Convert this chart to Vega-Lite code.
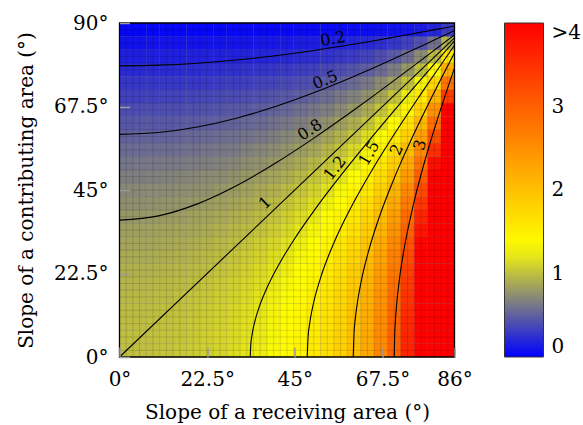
{
"$schema": "https://vega.github.io/schema/vega-lite/v6.json",
"width": 335, "height": 334,
"autosize": {"type": "none"},
"padding": {"left": 119.5, "top": 23, "right": 128.5, "bottom": 68},
"config": {"view": {"stroke": null}, "font": "DejaVu Serif"},
"datasets": {
"cells": [
{"x":1.72,"y":1.8,"v":1.00},{"x":5.16,"y":1.8,"v":1.00},{"x":8.6,"y":1.8,"v":1.01},{"x":12.04,"y":1.8,"v":1.02},{"x":15.48,"y":1.8,"v":1.04},{"x":18.92,"y":1.8,"v":1.06},{"x":22.36,"y":1.8,"v":1.08},{"x":25.8,"y":1.8,"v":1.11},{"x":29.24,"y":1.8,"v":1.15},{"x":32.68,"y":1.8,"v":1.19},{"x":36.12,"y":1.8,"v":1.24},{"x":39.56,"y":1.8,"v":1.30},{"x":43,"y":1.8,"v":1.37},{"x":46.44,"y":1.8,"v":1.45},{"x":49.88,"y":1.8,"v":1.55},{"x":53.32,"y":1.8,"v":1.67},{"x":56.76,"y":1.8,"v":1.82},{"x":60.2,"y":1.8,"v":2.01},{"x":63.64,"y":1.8,"v":2.25},{"x":67.08,"y":1.8,"v":2.57},{"x":70.52,"y":1.8,"v":3.00},{"x":73.96,"y":1.8,"v":3.62},{"x":77.4,"y":1.8,"v":4.58},{"x":80.84,"y":1.8,"v":6.28},{"x":84.28,"y":1.8,"v":10.03},
{"x":1.72,"y":5.4,"v":1.00},{"x":5.16,"y":5.4,"v":1.00},{"x":8.6,"y":5.4,"v":1.01},{"x":12.04,"y":5.4,"v":1.02},{"x":15.48,"y":5.4,"v":1.03},{"x":18.92,"y":5.4,"v":1.05},{"x":22.36,"y":5.4,"v":1.08},{"x":25.8,"y":5.4,"v":1.11},{"x":29.24,"y":5.4,"v":1.14},{"x":32.68,"y":5.4,"v":1.18},{"x":36.12,"y":5.4,"v":1.23},{"x":39.56,"y":5.4,"v":1.29},{"x":43,"y":5.4,"v":1.36},{"x":46.44,"y":5.4,"v":1.44},{"x":49.88,"y":5.4,"v":1.54},{"x":53.32,"y":5.4,"v":1.67},{"x":56.76,"y":5.4,"v":1.82},{"x":60.2,"y":5.4,"v":2.00},{"x":63.64,"y":5.4,"v":2.24},{"x":67.08,"y":5.4,"v":2.56},{"x":70.52,"y":5.4,"v":2.99},{"x":73.96,"y":5.4,"v":3.60},{"x":77.4,"y":5.4,"v":4.56},{"x":80.84,"y":5.4,"v":6.25},{"x":84.28,"y":5.4,"v":9.99},
{"x":1.72,"y":9,"v":0.99},{"x":5.16,"y":9,"v":0.99},{"x":8.6,"y":9,"v":1.00},{"x":12.04,"y":9,"v":1.01},{"x":15.48,"y":9,"v":1.02},{"x":18.92,"y":9,"v":1.04},{"x":22.36,"y":9,"v":1.07},{"x":25.8,"y":9,"v":1.10},{"x":29.24,"y":9,"v":1.13},{"x":32.68,"y":9,"v":1.17},{"x":36.12,"y":9,"v":1.22},{"x":39.56,"y":9,"v":1.28},{"x":43,"y":9,"v":1.35},{"x":46.44,"y":9,"v":1.43},{"x":49.88,"y":9,"v":1.53},{"x":53.32,"y":9,"v":1.65},{"x":56.76,"y":9,"v":1.80},{"x":60.2,"y":9,"v":1.99},{"x":63.64,"y":9,"v":2.22},{"x":67.08,"y":9,"v":2.54},{"x":70.52,"y":9,"v":2.96},{"x":73.96,"y":9,"v":3.57},{"x":77.4,"y":9,"v":4.53},{"x":80.84,"y":9,"v":6.20},{"x":84.28,"y":9,"v":9.91},
{"x":1.72,"y":12.6,"v":0.98},{"x":5.16,"y":12.6,"v":0.98},{"x":8.6,"y":12.6,"v":0.99},{"x":12.04,"y":12.6,"v":1.00},{"x":15.48,"y":12.6,"v":1.01},{"x":18.92,"y":12.6,"v":1.03},{"x":22.36,"y":12.6,"v":1.06},{"x":25.8,"y":12.6,"v":1.08},{"x":29.24,"y":12.6,"v":1.12},{"x":32.68,"y":12.6,"v":1.16},{"x":36.12,"y":12.6,"v":1.21},{"x":39.56,"y":12.6,"v":1.27},{"x":43,"y":12.6,"v":1.33},{"x":46.44,"y":12.6,"v":1.42},{"x":49.88,"y":12.6,"v":1.51},{"x":53.32,"y":12.6,"v":1.63},{"x":56.76,"y":12.6,"v":1.78},{"x":60.2,"y":12.6,"v":1.96},{"x":63.64,"y":12.6,"v":2.20},{"x":67.08,"y":12.6,"v":2.51},{"x":70.52,"y":12.6,"v":2.93},{"x":73.96,"y":12.6,"v":3.53},{"x":77.4,"y":12.6,"v":4.47},{"x":80.84,"y":12.6,"v":6.13},{"x":84.28,"y":12.6,"v":9.79},
{"x":1.72,"y":16.2,"v":0.96},{"x":5.16,"y":16.2,"v":0.96},{"x":8.6,"y":16.2,"v":0.97},{"x":12.04,"y":16.2,"v":0.98},{"x":15.48,"y":16.2,"v":1.00},{"x":18.92,"y":16.2,"v":1.02},{"x":22.36,"y":16.2,"v":1.04},{"x":25.8,"y":16.2,"v":1.07},{"x":29.24,"y":16.2,"v":1.10},{"x":32.68,"y":16.2,"v":1.14},{"x":36.12,"y":16.2,"v":1.19},{"x":39.56,"y":16.2,"v":1.25},{"x":43,"y":16.2,"v":1.31},{"x":46.44,"y":16.2,"v":1.39},{"x":49.88,"y":16.2,"v":1.49},{"x":53.32,"y":16.2,"v":1.61},{"x":56.76,"y":16.2,"v":1.75},{"x":60.2,"y":16.2,"v":1.93},{"x":63.64,"y":16.2,"v":2.16},{"x":67.08,"y":16.2,"v":2.47},{"x":70.52,"y":16.2,"v":2.88},{"x":73.96,"y":16.2,"v":3.48},{"x":77.4,"y":16.2,"v":4.40},{"x":80.84,"y":16.2,"v":6.03},{"x":84.28,"y":16.2,"v":9.63},
{"x":1.72,"y":19.8,"v":0.94},{"x":5.16,"y":19.8,"v":0.94},{"x":8.6,"y":19.8,"v":0.95},{"x":12.04,"y":19.8,"v":0.96},{"x":15.48,"y":19.8,"v":0.98},{"x":18.92,"y":19.8,"v":0.99},{"x":22.36,"y":19.8,"v":1.02},{"x":25.8,"y":19.8,"v":1.05},{"x":29.24,"y":19.8,"v":1.08},{"x":32.68,"y":19.8,"v":1.12},{"x":36.12,"y":19.8,"v":1.16},{"x":39.56,"y":19.8,"v":1.22},{"x":43,"y":19.8,"v":1.29},{"x":46.44,"y":19.8,"v":1.37},{"x":49.88,"y":19.8,"v":1.46},{"x":53.32,"y":19.8,"v":1.58},{"x":56.76,"y":19.8,"v":1.72},{"x":60.2,"y":19.8,"v":1.89},{"x":63.64,"y":19.8,"v":2.12},{"x":67.08,"y":19.8,"v":2.42},{"x":70.52,"y":19.8,"v":2.82},{"x":73.96,"y":19.8,"v":3.41},{"x":77.4,"y":19.8,"v":4.31},{"x":80.84,"y":19.8,"v":5.91},{"x":84.28,"y":19.8,"v":9.44},
{"x":1.72,"y":23.4,"v":0.92},{"x":5.16,"y":23.4,"v":0.92},{"x":8.6,"y":23.4,"v":0.93},{"x":12.04,"y":23.4,"v":0.94},{"x":15.48,"y":23.4,"v":0.95},{"x":18.92,"y":23.4,"v":0.97},{"x":22.36,"y":23.4,"v":0.99},{"x":25.8,"y":23.4,"v":1.02},{"x":29.24,"y":23.4,"v":1.05},{"x":32.68,"y":23.4,"v":1.09},{"x":36.12,"y":23.4,"v":1.14},{"x":39.56,"y":23.4,"v":1.19},{"x":43,"y":23.4,"v":1.25},{"x":46.44,"y":23.4,"v":1.33},{"x":49.88,"y":23.4,"v":1.42},{"x":53.32,"y":23.4,"v":1.54},{"x":56.76,"y":23.4,"v":1.67},{"x":60.2,"y":23.4,"v":1.85},{"x":63.64,"y":23.4,"v":2.07},{"x":67.08,"y":23.4,"v":2.36},{"x":70.52,"y":23.4,"v":2.75},{"x":73.96,"y":23.4,"v":3.32},{"x":77.4,"y":23.4,"v":4.21},{"x":80.84,"y":23.4,"v":5.77},{"x":84.28,"y":23.4,"v":9.21},
{"x":1.72,"y":27,"v":0.89},{"x":5.16,"y":27,"v":0.89},{"x":8.6,"y":27,"v":0.90},{"x":12.04,"y":27,"v":0.91},{"x":15.48,"y":27,"v":0.92},{"x":18.92,"y":27,"v":0.94},{"x":22.36,"y":27,"v":0.96},{"x":25.8,"y":27,"v":0.99},{"x":29.24,"y":27,"v":1.02},{"x":32.68,"y":27,"v":1.06},{"x":36.12,"y":27,"v":1.10},{"x":39.56,"y":27,"v":1.16},{"x":43,"y":27,"v":1.22},{"x":46.44,"y":27,"v":1.29},{"x":49.88,"y":27,"v":1.38},{"x":53.32,"y":27,"v":1.49},{"x":56.76,"y":27,"v":1.63},{"x":60.2,"y":27,"v":1.79},{"x":63.64,"y":27,"v":2.01},{"x":67.08,"y":27,"v":2.29},{"x":70.52,"y":27,"v":2.67},{"x":73.96,"y":27,"v":3.22},{"x":77.4,"y":27,"v":4.08},{"x":80.84,"y":27,"v":5.60},{"x":84.28,"y":27,"v":8.94},
{"x":1.72,"y":30.6,"v":0.86},{"x":5.16,"y":30.6,"v":0.86},{"x":8.6,"y":30.6,"v":0.87},{"x":12.04,"y":30.6,"v":0.88},{"x":15.48,"y":30.6,"v":0.89},{"x":18.92,"y":30.6,"v":0.91},{"x":22.36,"y":30.6,"v":0.93},{"x":25.8,"y":30.6,"v":0.96},{"x":29.24,"y":30.6,"v":0.99},{"x":32.68,"y":30.6,"v":1.02},{"x":36.12,"y":30.6,"v":1.07},{"x":39.56,"y":30.6,"v":1.12},{"x":43,"y":30.6,"v":1.18},{"x":46.44,"y":30.6,"v":1.25},{"x":49.88,"y":30.6,"v":1.34},{"x":53.32,"y":30.6,"v":1.44},{"x":56.76,"y":30.6,"v":1.57},{"x":60.2,"y":30.6,"v":1.73},{"x":63.64,"y":30.6,"v":1.94},{"x":67.08,"y":30.6,"v":2.21},{"x":70.52,"y":30.6,"v":2.58},{"x":73.96,"y":30.6,"v":3.12},{"x":77.4,"y":30.6,"v":3.95},{"x":80.84,"y":30.6,"v":5.41},{"x":84.28,"y":30.6,"v":8.64},
{"x":1.72,"y":34.2,"v":0.83},{"x":5.16,"y":34.2,"v":0.83},{"x":8.6,"y":34.2,"v":0.84},{"x":12.04,"y":34.2,"v":0.85},{"x":15.48,"y":34.2,"v":0.86},{"x":18.92,"y":34.2,"v":0.87},{"x":22.36,"y":34.2,"v":0.89},{"x":25.8,"y":34.2,"v":0.92},{"x":29.24,"y":34.2,"v":0.95},{"x":32.68,"y":34.2,"v":0.98},{"x":36.12,"y":34.2,"v":1.02},{"x":39.56,"y":34.2,"v":1.07},{"x":43,"y":34.2,"v":1.13},{"x":46.44,"y":34.2,"v":1.20},{"x":49.88,"y":34.2,"v":1.28},{"x":53.32,"y":34.2,"v":1.38},{"x":56.76,"y":34.2,"v":1.51},{"x":60.2,"y":34.2,"v":1.66},{"x":63.64,"y":34.2,"v":1.86},{"x":67.08,"y":34.2,"v":2.12},{"x":70.52,"y":34.2,"v":2.48},{"x":73.96,"y":34.2,"v":2.99},{"x":77.4,"y":34.2,"v":3.79},{"x":80.84,"y":34.2,"v":5.20},{"x":84.28,"y":34.2,"v":8.30},
{"x":1.72,"y":37.8,"v":0.79},{"x":5.16,"y":37.8,"v":0.79},{"x":8.6,"y":37.8,"v":0.80},{"x":12.04,"y":37.8,"v":0.81},{"x":15.48,"y":37.8,"v":0.82},{"x":18.92,"y":37.8,"v":0.84},{"x":22.36,"y":37.8,"v":0.85},{"x":25.8,"y":37.8,"v":0.88},{"x":29.24,"y":37.8,"v":0.91},{"x":32.68,"y":37.8,"v":0.94},{"x":36.12,"y":37.8,"v":0.98},{"x":39.56,"y":37.8,"v":1.02},{"x":43,"y":37.8,"v":1.08},{"x":46.44,"y":37.8,"v":1.15},{"x":49.88,"y":37.8,"v":1.23},{"x":53.32,"y":37.8,"v":1.32},{"x":56.76,"y":37.8,"v":1.44},{"x":60.2,"y":37.8,"v":1.59},{"x":63.64,"y":37.8,"v":1.78},{"x":67.08,"y":37.8,"v":2.03},{"x":70.52,"y":37.8,"v":2.37},{"x":73.96,"y":37.8,"v":2.86},{"x":77.4,"y":37.8,"v":3.62},{"x":80.84,"y":37.8,"v":4.96},{"x":84.28,"y":37.8,"v":7.93},
{"x":1.72,"y":41.4,"v":0.75},{"x":5.16,"y":41.4,"v":0.75},{"x":8.6,"y":41.4,"v":0.76},{"x":12.04,"y":41.4,"v":0.77},{"x":15.48,"y":41.4,"v":0.78},{"x":18.92,"y":41.4,"v":0.79},{"x":22.36,"y":41.4,"v":0.81},{"x":25.8,"y":41.4,"v":0.83},{"x":29.24,"y":41.4,"v":0.86},{"x":32.68,"y":41.4,"v":0.89},{"x":36.12,"y":41.4,"v":0.93},{"x":39.56,"y":41.4,"v":0.97},{"x":43,"y":41.4,"v":1.03},{"x":46.44,"y":41.4,"v":1.09},{"x":49.88,"y":41.4,"v":1.16},{"x":53.32,"y":41.4,"v":1.26},{"x":56.76,"y":41.4,"v":1.37},{"x":60.2,"y":41.4,"v":1.51},{"x":63.64,"y":41.4,"v":1.69},{"x":67.08,"y":41.4,"v":1.93},{"x":70.52,"y":41.4,"v":2.25},{"x":73.96,"y":41.4,"v":2.71},{"x":77.4,"y":41.4,"v":3.44},{"x":80.84,"y":41.4,"v":4.71},{"x":84.28,"y":41.4,"v":7.53},
{"x":1.72,"y":45,"v":0.71},{"x":5.16,"y":45,"v":0.71},{"x":8.6,"y":45,"v":0.72},{"x":12.04,"y":45,"v":0.72},{"x":15.48,"y":45,"v":0.73},{"x":18.92,"y":45,"v":0.75},{"x":22.36,"y":45,"v":0.76},{"x":25.8,"y":45,"v":0.79},{"x":29.24,"y":45,"v":0.81},{"x":32.68,"y":45,"v":0.84},{"x":36.12,"y":45,"v":0.88},{"x":39.56,"y":45,"v":0.92},{"x":43,"y":45,"v":0.97},{"x":46.44,"y":45,"v":1.03},{"x":49.88,"y":45,"v":1.10},{"x":53.32,"y":45,"v":1.18},{"x":56.76,"y":45,"v":1.29},{"x":60.2,"y":45,"v":1.42},{"x":63.64,"y":45,"v":1.59},{"x":67.08,"y":45,"v":1.82},{"x":70.52,"y":45,"v":2.12},{"x":73.96,"y":45,"v":2.56},{"x":77.4,"y":45,"v":3.24},{"x":80.84,"y":45,"v":4.44},{"x":84.28,"y":45,"v":7.09},
{"x":1.72,"y":48.6,"v":0.66},{"x":5.16,"y":48.6,"v":0.66},{"x":8.6,"y":48.6,"v":0.67},{"x":12.04,"y":48.6,"v":0.68},{"x":15.48,"y":48.6,"v":0.69},{"x":18.92,"y":48.6,"v":0.70},{"x":22.36,"y":48.6,"v":0.72},{"x":25.8,"y":48.6,"v":0.73},{"x":29.24,"y":48.6,"v":0.76},{"x":32.68,"y":48.6,"v":0.79},{"x":36.12,"y":48.6,"v":0.82},{"x":39.56,"y":48.6,"v":0.86},{"x":43,"y":48.6,"v":0.90},{"x":46.44,"y":48.6,"v":0.96},{"x":49.88,"y":48.6,"v":1.03},{"x":53.32,"y":48.6,"v":1.11},{"x":56.76,"y":48.6,"v":1.21},{"x":60.2,"y":48.6,"v":1.33},{"x":63.64,"y":48.6,"v":1.49},{"x":67.08,"y":48.6,"v":1.70},{"x":70.52,"y":48.6,"v":1.98},{"x":73.96,"y":48.6,"v":2.39},{"x":77.4,"y":48.6,"v":3.03},{"x":80.84,"y":48.6,"v":4.15},{"x":84.28,"y":48.6,"v":6.63},
{"x":1.72,"y":52.2,"v":0.61},{"x":5.16,"y":52.2,"v":0.62},{"x":8.6,"y":52.2,"v":0.62},{"x":12.04,"y":52.2,"v":0.63},{"x":15.48,"y":52.2,"v":0.64},{"x":18.92,"y":52.2,"v":0.65},{"x":22.36,"y":52.2,"v":0.66},{"x":25.8,"y":52.2,"v":0.68},{"x":29.24,"y":52.2,"v":0.70},{"x":32.68,"y":52.2,"v":0.73},{"x":36.12,"y":52.2,"v":0.76},{"x":39.56,"y":52.2,"v":0.80},{"x":43,"y":52.2,"v":0.84},{"x":46.44,"y":52.2,"v":0.89},{"x":49.88,"y":52.2,"v":0.95},{"x":53.32,"y":52.2,"v":1.03},{"x":56.76,"y":52.2,"v":1.12},{"x":60.2,"y":52.2,"v":1.23},{"x":63.64,"y":52.2,"v":1.38},{"x":67.08,"y":52.2,"v":1.57},{"x":70.52,"y":52.2,"v":1.84},{"x":73.96,"y":52.2,"v":2.22},{"x":77.4,"y":52.2,"v":2.81},{"x":80.84,"y":52.2,"v":3.85},{"x":84.28,"y":52.2,"v":6.15},
{"x":1.72,"y":55.8,"v":0.56},{"x":5.16,"y":55.8,"v":0.56},{"x":8.6,"y":55.8,"v":0.57},{"x":12.04,"y":55.8,"v":0.57},{"x":15.48,"y":55.8,"v":0.58},{"x":18.92,"y":55.8,"v":0.59},{"x":22.36,"y":55.8,"v":0.61},{"x":25.8,"y":55.8,"v":0.62},{"x":29.24,"y":55.8,"v":0.64},{"x":32.68,"y":55.8,"v":0.67},{"x":36.12,"y":55.8,"v":0.70},{"x":39.56,"y":55.8,"v":0.73},{"x":43,"y":55.8,"v":0.77},{"x":46.44,"y":55.8,"v":0.82},{"x":49.88,"y":55.8,"v":0.87},{"x":53.32,"y":55.8,"v":0.94},{"x":56.76,"y":55.8,"v":1.03},{"x":60.2,"y":55.8,"v":1.13},{"x":63.64,"y":55.8,"v":1.27},{"x":67.08,"y":55.8,"v":1.44},{"x":70.52,"y":55.8,"v":1.69},{"x":73.96,"y":55.8,"v":2.03},{"x":77.4,"y":55.8,"v":2.58},{"x":80.84,"y":55.8,"v":3.53},{"x":84.28,"y":55.8,"v":5.64},
{"x":1.72,"y":59.4,"v":0.51},{"x":5.16,"y":59.4,"v":0.51},{"x":8.6,"y":59.4,"v":0.51},{"x":12.04,"y":59.4,"v":0.52},{"x":15.48,"y":59.4,"v":0.53},{"x":18.92,"y":59.4,"v":0.54},{"x":22.36,"y":59.4,"v":0.55},{"x":25.8,"y":59.4,"v":0.57},{"x":29.24,"y":59.4,"v":0.58},{"x":32.68,"y":59.4,"v":0.60},{"x":36.12,"y":59.4,"v":0.63},{"x":39.56,"y":59.4,"v":0.66},{"x":43,"y":59.4,"v":0.70},{"x":46.44,"y":59.4,"v":0.74},{"x":49.88,"y":59.4,"v":0.79},{"x":53.32,"y":59.4,"v":0.85},{"x":56.76,"y":59.4,"v":0.93},{"x":60.2,"y":59.4,"v":1.02},{"x":63.64,"y":59.4,"v":1.15},{"x":67.08,"y":59.4,"v":1.31},{"x":70.52,"y":59.4,"v":1.53},{"x":73.96,"y":59.4,"v":1.84},{"x":77.4,"y":59.4,"v":2.33},{"x":80.84,"y":59.4,"v":3.20},{"x":84.28,"y":59.4,"v":5.11},
{"x":1.72,"y":63,"v":0.45},{"x":5.16,"y":63,"v":0.46},{"x":8.6,"y":63,"v":0.46},{"x":12.04,"y":63,"v":0.46},{"x":15.48,"y":63,"v":0.47},{"x":18.92,"y":63,"v":0.48},{"x":22.36,"y":63,"v":0.49},{"x":25.8,"y":63,"v":0.50},{"x":29.24,"y":63,"v":0.52},{"x":32.68,"y":63,"v":0.54},{"x":36.12,"y":63,"v":0.56},{"x":39.56,"y":63,"v":0.59},{"x":43,"y":63,"v":0.62},{"x":46.44,"y":63,"v":0.66},{"x":49.88,"y":63,"v":0.70},{"x":53.32,"y":63,"v":0.76},{"x":56.76,"y":63,"v":0.83},{"x":60.2,"y":63,"v":0.91},{"x":63.64,"y":63,"v":1.02},{"x":67.08,"y":63,"v":1.17},{"x":70.52,"y":63,"v":1.36},{"x":73.96,"y":63,"v":1.64},{"x":77.4,"y":63,"v":2.08},{"x":80.84,"y":63,"v":2.85},{"x":84.28,"y":63,"v":4.55},
{"x":1.72,"y":66.6,"v":0.40},{"x":5.16,"y":66.6,"v":0.40},{"x":8.6,"y":66.6,"v":0.40},{"x":12.04,"y":66.6,"v":0.41},{"x":15.48,"y":66.6,"v":0.41},{"x":18.92,"y":66.6,"v":0.42},{"x":22.36,"y":66.6,"v":0.43},{"x":25.8,"y":66.6,"v":0.44},{"x":29.24,"y":66.6,"v":0.46},{"x":32.68,"y":66.6,"v":0.47},{"x":36.12,"y":66.6,"v":0.49},{"x":39.56,"y":66.6,"v":0.52},{"x":43,"y":66.6,"v":0.54},{"x":46.44,"y":66.6,"v":0.58},{"x":49.88,"y":66.6,"v":0.62},{"x":53.32,"y":66.6,"v":0.66},{"x":56.76,"y":66.6,"v":0.72},{"x":60.2,"y":66.6,"v":0.80},{"x":63.64,"y":66.6,"v":0.89},{"x":67.08,"y":66.6,"v":1.02},{"x":70.52,"y":66.6,"v":1.19},{"x":73.96,"y":66.6,"v":1.44},{"x":77.4,"y":66.6,"v":1.82},{"x":80.84,"y":66.6,"v":2.50},{"x":84.28,"y":66.6,"v":3.99},
{"x":1.72,"y":70.2,"v":0.34},{"x":5.16,"y":70.2,"v":0.34},{"x":8.6,"y":70.2,"v":0.34},{"x":12.04,"y":70.2,"v":0.35},{"x":15.48,"y":70.2,"v":0.35},{"x":18.92,"y":70.2,"v":0.36},{"x":22.36,"y":70.2,"v":0.37},{"x":25.8,"y":70.2,"v":0.38},{"x":29.24,"y":70.2,"v":0.39},{"x":32.68,"y":70.2,"v":0.40},{"x":36.12,"y":70.2,"v":0.42},{"x":39.56,"y":70.2,"v":0.44},{"x":43,"y":70.2,"v":0.46},{"x":46.44,"y":70.2,"v":0.49},{"x":49.88,"y":70.2,"v":0.53},{"x":53.32,"y":70.2,"v":0.57},{"x":56.76,"y":70.2,"v":0.62},{"x":60.2,"y":70.2,"v":0.68},{"x":63.64,"y":70.2,"v":0.76},{"x":67.08,"y":70.2,"v":0.87},{"x":70.52,"y":70.2,"v":1.02},{"x":73.96,"y":70.2,"v":1.23},{"x":77.4,"y":70.2,"v":1.55},{"x":80.84,"y":70.2,"v":2.13},{"x":84.28,"y":70.2,"v":3.40},
{"x":1.72,"y":73.8,"v":0.28},{"x":5.16,"y":73.8,"v":0.28},{"x":8.6,"y":73.8,"v":0.28},{"x":12.04,"y":73.8,"v":0.29},{"x":15.48,"y":73.8,"v":0.29},{"x":18.92,"y":73.8,"v":0.29},{"x":22.36,"y":73.8,"v":0.30},{"x":25.8,"y":73.8,"v":0.31},{"x":29.24,"y":73.8,"v":0.32},{"x":32.68,"y":73.8,"v":0.33},{"x":36.12,"y":73.8,"v":0.35},{"x":39.56,"y":73.8,"v":0.36},{"x":43,"y":73.8,"v":0.38},{"x":46.44,"y":73.8,"v":0.40},{"x":49.88,"y":73.8,"v":0.43},{"x":53.32,"y":73.8,"v":0.47},{"x":56.76,"y":73.8,"v":0.51},{"x":60.2,"y":73.8,"v":0.56},{"x":63.64,"y":73.8,"v":0.63},{"x":67.08,"y":73.8,"v":0.72},{"x":70.52,"y":73.8,"v":0.84},{"x":73.96,"y":73.8,"v":1.01},{"x":77.4,"y":73.8,"v":1.28},{"x":80.84,"y":73.8,"v":1.75},{"x":84.28,"y":73.8,"v":2.80},
{"x":1.72,"y":77.4,"v":0.22},{"x":5.16,"y":77.4,"v":0.22},{"x":8.6,"y":77.4,"v":0.22},{"x":12.04,"y":77.4,"v":0.22},{"x":15.48,"y":77.4,"v":0.23},{"x":18.92,"y":77.4,"v":0.23},{"x":22.36,"y":77.4,"v":0.24},{"x":25.8,"y":77.4,"v":0.24},{"x":29.24,"y":77.4,"v":0.25},{"x":32.68,"y":77.4,"v":0.26},{"x":36.12,"y":77.4,"v":0.27},{"x":39.56,"y":77.4,"v":0.28},{"x":43,"y":77.4,"v":0.30},{"x":46.44,"y":77.4,"v":0.32},{"x":49.88,"y":77.4,"v":0.34},{"x":53.32,"y":77.4,"v":0.37},{"x":56.76,"y":77.4,"v":0.40},{"x":60.2,"y":77.4,"v":0.44},{"x":63.64,"y":77.4,"v":0.49},{"x":67.08,"y":77.4,"v":0.56},{"x":70.52,"y":77.4,"v":0.65},{"x":73.96,"y":77.4,"v":0.79},{"x":77.4,"y":77.4,"v":1.00},{"x":80.84,"y":77.4,"v":1.37},{"x":84.28,"y":77.4,"v":2.19},
{"x":1.72,"y":81,"v":0.16},{"x":5.16,"y":81,"v":0.16},{"x":8.6,"y":81,"v":0.16},{"x":12.04,"y":81,"v":0.16},{"x":15.48,"y":81,"v":0.16},{"x":18.92,"y":81,"v":0.17},{"x":22.36,"y":81,"v":0.17},{"x":25.8,"y":81,"v":0.17},{"x":29.24,"y":81,"v":0.18},{"x":32.68,"y":81,"v":0.19},{"x":36.12,"y":81,"v":0.19},{"x":39.56,"y":81,"v":0.20},{"x":43,"y":81,"v":0.21},{"x":46.44,"y":81,"v":0.23},{"x":49.88,"y":81,"v":0.24},{"x":53.32,"y":81,"v":0.26},{"x":56.76,"y":81,"v":0.29},{"x":60.2,"y":81,"v":0.31},{"x":63.64,"y":81,"v":0.35},{"x":67.08,"y":81,"v":0.40},{"x":70.52,"y":81,"v":0.47},{"x":73.96,"y":81,"v":0.57},{"x":77.4,"y":81,"v":0.72},{"x":80.84,"y":81,"v":0.98},{"x":84.28,"y":81,"v":1.57},
{"x":1.72,"y":84.6,"v":0.09},{"x":5.16,"y":84.6,"v":0.09},{"x":8.6,"y":84.6,"v":0.10},{"x":12.04,"y":84.6,"v":0.10},{"x":15.48,"y":84.6,"v":0.10},{"x":18.92,"y":84.6,"v":0.10},{"x":22.36,"y":84.6,"v":0.10},{"x":25.8,"y":84.6,"v":0.10},{"x":29.24,"y":84.6,"v":0.11},{"x":32.68,"y":84.6,"v":0.11},{"x":36.12,"y":84.6,"v":0.12},{"x":39.56,"y":84.6,"v":0.12},{"x":43,"y":84.6,"v":0.13},{"x":46.44,"y":84.6,"v":0.14},{"x":49.88,"y":84.6,"v":0.15},{"x":53.32,"y":84.6,"v":0.16},{"x":56.76,"y":84.6,"v":0.17},{"x":60.2,"y":84.6,"v":0.19},{"x":63.64,"y":84.6,"v":0.21},{"x":67.08,"y":84.6,"v":0.24},{"x":70.52,"y":84.6,"v":0.28},{"x":73.96,"y":84.6,"v":0.34},{"x":77.4,"y":84.6,"v":0.43},{"x":80.84,"y":84.6,"v":0.59},{"x":84.28,"y":84.6,"v":0.94},
{"x":1.72,"y":88.2,"v":0.03},{"x":5.16,"y":88.2,"v":0.03},{"x":8.6,"y":88.2,"v":0.03},{"x":12.04,"y":88.2,"v":0.03},{"x":15.48,"y":88.2,"v":0.03},{"x":18.92,"y":88.2,"v":0.03},{"x":22.36,"y":88.2,"v":0.03},{"x":25.8,"y":88.2,"v":0.03},{"x":29.24,"y":88.2,"v":0.04},{"x":32.68,"y":88.2,"v":0.04},{"x":36.12,"y":88.2,"v":0.04},{"x":39.56,"y":88.2,"v":0.04},{"x":43,"y":88.2,"v":0.04},{"x":46.44,"y":88.2,"v":0.05},{"x":49.88,"y":88.2,"v":0.05},{"x":53.32,"y":88.2,"v":0.05},{"x":56.76,"y":88.2,"v":0.06},{"x":60.2,"y":88.2,"v":0.06},{"x":63.64,"y":88.2,"v":0.07},{"x":67.08,"y":88.2,"v":0.08},{"x":70.52,"y":88.2,"v":0.09},{"x":73.96,"y":88.2,"v":0.11},{"x":77.4,"y":88.2,"v":0.14},{"x":80.84,"y":88.2,"v":0.20},{"x":84.28,"y":88.2,"v":0.32}
],
"meshx": [{"g":1.72},{"g":3.44},{"g":5.16},{"g":6.88},{"g":8.6},{"g":10.32},{"g":12.04},{"g":13.76},{"g":15.48},{"g":17.2},{"g":18.92},{"g":20.64},{"g":22.36},{"g":24.08},{"g":25.8},{"g":27.52},{"g":29.24},{"g":30.96},{"g":32.68},{"g":34.4},{"g":36.12},{"g":37.84},{"g":39.56},{"g":41.28},{"g":43},{"g":44.72},{"g":46.44},{"g":48.16},{"g":49.88},{"g":51.6},{"g":53.32},{"g":55.04},{"g":56.76},{"g":58.48},{"g":60.2},{"g":61.92},{"g":63.64},{"g":65.36},{"g":67.08},{"g":68.8},{"g":70.52},{"g":72.24},{"g":73.96},{"g":75.68},{"g":77.4},{"g":79.12},{"g":80.84},{"g":82.56},{"g":84.28}],
"meshy": [{"g":1.8},{"g":3.6},{"g":5.4},{"g":7.2},{"g":9},{"g":10.8},{"g":12.6},{"g":14.4},{"g":16.2},{"g":18},{"g":19.8},{"g":21.6},{"g":23.4},{"g":25.2},{"g":27},{"g":28.8},{"g":30.6},{"g":32.4},{"g":34.2},{"g":36},{"g":37.8},{"g":39.6},{"g":41.4},{"g":43.2},{"g":45},{"g":46.8},{"g":48.6},{"g":50.4},{"g":52.2},{"g":54},{"g":55.8},{"g":57.6},{"g":59.4},{"g":61.2},{"g":63},{"g":64.8},{"g":66.6},{"g":68.4},{"g":70.2},{"g":72},{"g":73.8},{"g":75.6},{"g":77.4},{"g":79.2},{"g":81},{"g":82.8},{"g":84.6},{"g":86.4},{"g":88.2}],
"contours": [
{"level":"0.2","x":0,"y":78.46},{"level":"0.2","x":10,"y":78.64},{"level":"0.2","x":20,"y":79.17},{"level":"0.2","x":30,"y":80.03},{"level":"0.2","x":40,"y":81.19},{"level":"0.2","x":50,"y":82.61},{"level":"0.2","x":60,"y":84.26},{"level":"0.2","x":65,"y":85.15},{"level":"0.2","x":70,"y":86.08},{"level":"0.2","x":75,"y":87.03},{"level":"0.2","x":78,"y":87.62},{"level":"0.2","x":80,"y":88.01},{"level":"0.2","x":82,"y":88.41},{"level":"0.2","x":84,"y":88.8},{"level":"0.2","x":86,"y":89.2},
{"level":"0.5","x":0,"y":60},{"level":"0.5","x":10,"y":60.5},{"level":"0.5","x":20,"y":61.98},{"level":"0.5","x":30,"y":64.34},{"level":"0.5","x":40,"y":67.48},{"level":"0.5","x":50,"y":71.25},{"level":"0.5","x":60,"y":75.52},{"level":"0.5","x":65,"y":77.8},{"level":"0.5","x":70,"y":80.15},{"level":"0.5","x":75,"y":82.56},{"level":"0.5","x":78,"y":84.03},{"level":"0.5","x":80,"y":85.02},{"level":"0.5","x":82,"y":86.01},{"level":"0.5","x":84,"y":87},{"level":"0.5","x":86,"y":88},
{"level":"0.8","x":0,"y":36.87},{"level":"0.8","x":10,"y":38.02},{"level":"0.8","x":20,"y":41.26},{"level":"0.8","x":30,"y":46.15},{"level":"0.8","x":40,"y":52.21},{"level":"0.8","x":50,"y":59.05},{"level":"0.8","x":60,"y":66.42},{"level":"0.8","x":65,"y":70.24},{"level":"0.8","x":70,"y":74.12},{"level":"0.8","x":75,"y":78.05},{"level":"0.8","x":78,"y":80.43},{"level":"0.8","x":80,"y":82.02},{"level":"0.8","x":82,"y":83.61},{"level":"0.8","x":84,"y":85.2},{"level":"0.8","x":86,"y":86.8},
{"level":"1","x":0,"y":0},{"level":"1","x":43,"y":43},{"level":"1","x":86,"y":86},
{"level":"1.2","x":33.56,"y":0},{"level":"1.2","x":33.7,"y":3.3},{"level":"1.2","x":34,"y":5.82},{"level":"1.2","x":34.5,"y":8.53},{"level":"1.2","x":35,"y":10.59},{"level":"1.2","x":36,"y":13.88},{"level":"1.2","x":38,"y":18.98},{"level":"1.2","x":40,"y":23.18},{"level":"1.2","x":42,"y":26.9},{"level":"1.2","x":45,"y":31.95},{"level":"1.2","x":50,"y":39.52},{"level":"1.2","x":55,"y":46.51},{"level":"1.2","x":60,"y":53.13},{"level":"1.2","x":65,"y":59.53},{"level":"1.2","x":70,"y":65.77},{"level":"1.2","x":75,"y":71.91},{"level":"1.2","x":78,"y":75.55},{"level":"1.2","x":80,"y":77.97},{"level":"1.2","x":82,"y":80.39},{"level":"1.2","x":84,"y":82.79},{"level":"1.2","x":86,"y":85.2},
{"level":"1.5","x":48.19,"y":0},{"level":"1.5","x":48.4,"y":5.19},{"level":"1.5","x":48.8,"y":8.87},{"level":"1.5","x":49.4,"y":12.53},{"level":"1.5","x":50,"y":15.38},{"level":"1.5","x":52,"y":22.56},{"level":"1.5","x":55,"y":30.64},{"level":"1.5","x":58,"y":37.36},{"level":"1.5","x":60,"y":41.41},{"level":"1.5","x":65,"y":50.66},{"level":"1.5","x":70,"y":59.13},{"level":"1.5","x":75,"y":67.16},{"level":"1.5","x":78,"y":71.83},{"level":"1.5","x":80,"y":74.9},{"level":"1.5","x":82,"y":77.95},{"level":"1.5","x":84,"y":80.98},{"level":"1.5","x":86,"y":83.99},
{"level":"2","x":60,"y":0},{"level":"2","x":60.2,"y":6.31},{"level":"2","x":60.5,"y":9.99},{"level":"2","x":61,"y":14.16},{"level":"2","x":62,"y":20.13},{"level":"2","x":64,"y":28.75},{"level":"2","x":66,"y":35.56},{"level":"2","x":68,"y":41.48},{"level":"2","x":70,"y":46.84},{"level":"2","x":72,"y":51.83},{"level":"2","x":75,"y":58.83},{"level":"2","x":78,"y":65.43},{"level":"2","x":80,"y":69.68},{"level":"2","x":82,"y":73.84},{"level":"2","x":84,"y":77.93},{"level":"2","x":86,"y":81.98},
{"level":"3","x":70.53,"y":0},{"level":"3","x":70.65,"y":6.26},{"level":"3","x":70.8,"y":9.38},{"level":"3","x":71,"y":12.39},{"level":"3","x":72,"y":22.02},{"level":"3","x":73,"y":28.71},{"level":"3","x":74,"y":34.22},{"level":"3","x":75,"y":39.06},{"level":"3","x":76,"y":43.47},{"level":"3","x":77,"y":47.56},{"level":"3","x":78,"y":51.41},{"level":"3","x":80,"y":58.6},{"level":"3","x":82,"y":65.32},{"level":"3","x":84,"y":71.73},{"level":"3","x":86,"y":77.92}
]
},
"layer": [
{
"data": {"name": "cells"},
"mark": {"type": "rect", "width": 13.6, "height": 13.6},
"encoding": {
"x": {"field": "x", "type": "quantitative", "scale": {"domain": [0, 86], "nice": false, "zero": false},
"axis": {"values": [0, 22.5, 45, 67.5, 86], "labelExpr": "datum.value + '°'", "title": "Slope of a receiving area (°)", "grid": false, "domain": false,
"tickColor": "#9a9a9a", "tickWidth": 1.5, "tickSize": -10, "labelFont": "DejaVu Serif", "labelFontSize": 20, "labelColor": "black", "labelBaseline": "alphabetic", "labelPadding": 38, "labelFlush": false, "labelOverlap": false, "labelBound": false,
"titleFont": "DejaVu Serif", "titleFontSize": 20, "titleFontWeight": "normal", "titleColor": "black", "titleX": 167.5, "titleY": 61, "titleBaseline": "alphabetic", "titleAlign": "center", "zindex": 1}},
"y": {"field": "y", "type": "quantitative", "scale": {"domain": [0, 90], "nice": false, "zero": false},
"axis": {"values": [0, 22.5, 45, 67.5, 90], "labelExpr": "datum.value + '°'", "title": "Slope of a contributing area (°)", "grid": false, "domain": false,
"tickColor": "#9a9a9a", "tickWidth": 1.5, "tickSize": -10, "labelFont": "DejaVu Serif", "labelFontSize": 20, "labelColor": "black", "labelBaseline": "middle", "labelPadding": 21.5, "labelFlush": false, "labelOverlap": false, "labelBound": false,
"titleFont": "DejaVu Serif", "titleFontSize": 20, "titleFontWeight": "normal", "titleColor": "black", "titleAngle": -90, "titleX": -93.5, "titleY": 167, "titleBaseline": "middle", "titleAlign": "center", "zindex": 1}},
"color": {"field": "v", "type": "quantitative",
"scale": {"domain": [0, 1.3333, 2.6667, 4], "range": ["#0000ff", "#ffff00", "#ff8000", "#ff0000"], "interpolate": "rgb", "clamp": true},
"legend": {"title": null, "orient": "right", "direction": "vertical", "offset": 47, "padding": 0, "gradientLength": 334, "gradientThickness": 39, "gradientStrokeColor": "#333333", "gradientStrokeWidth": 1,
"values": [0, 1, 2, 3, 4], "labelExpr": "datum.value >= 4 ? '>4' : '' + datum.value", "labelFont": "DejaVu Serif", "labelFontSize": 20, "labelColor": "black", "labelOffset": 8, "labelBaseline": "middle", "labelOverlap": false}}
}
},
{
"data": {"name": "meshx"},
"mark": {"type": "rule", "color": "black", "opacity": 0.16, "strokeWidth": 0.9},
"encoding": {"x": {"field": "g", "type": "quantitative"}}
},
{
"data": {"name": "meshy"},
"mark": {"type": "rule", "color": "black", "opacity": 0.16, "strokeWidth": 0.9},
"encoding": {"y": {"field": "g", "type": "quantitative"}}
},
{
"data": {"name": "contours"},
"mark": {"type": "line", "color": "black", "strokeWidth": 1.1, "interpolate": "monotone"},
"encoding": {"x": {"field": "x", "type": "quantitative"}, "y": {"field": "y", "type": "quantitative"}, "detail": {"field": "level", "type": "nominal"}, "order": {"field": "x", "type": "quantitative"}}
},
{"data": {"values": [{"lab": "0.2", "x": 54.8, "y": 85.7}]}, "mark": {"type": "text", "angle": -9, "font": "DejaVu Serif", "fontSize": 16, "color": "black"}, "encoding": {"x": {"field": "x", "type": "quantitative"}, "y": {"field": "y", "type": "quantitative"}, "text": {"field": "lab"}}},
{"data": {"values": [{"lab": "0.5", "x": 52.8, "y": 74.6}]}, "mark": {"type": "text", "angle": -22, "font": "DejaVu Serif", "fontSize": 16, "color": "black"}, "encoding": {"x": {"field": "x", "type": "quantitative"}, "y": {"field": "y", "type": "quantitative"}, "text": {"field": "lab"}}},
{"data": {"values": [{"lab": "0.8", "x": 48.9, "y": 61.2}]}, "mark": {"type": "text", "angle": -33, "font": "DejaVu Serif", "fontSize": 16, "color": "black"}, "encoding": {"x": {"field": "x", "type": "quantitative"}, "y": {"field": "y", "type": "quantitative"}, "text": {"field": "lab"}}},
{"data": {"values": [{"lab": "1", "x": 37.4, "y": 41.5}]}, "mark": {"type": "text", "angle": -44, "font": "DejaVu Serif", "fontSize": 16, "color": "black"}, "encoding": {"x": {"field": "x", "type": "quantitative"}, "y": {"field": "y", "type": "quantitative"}, "text": {"field": "lab"}}},
{"data": {"values": [{"lab": "1.2", "x": 55.3, "y": 50.9}]}, "mark": {"type": "text", "angle": -52, "font": "DejaVu Serif", "fontSize": 16, "color": "black"}, "encoding": {"x": {"field": "x", "type": "quantitative"}, "y": {"field": "y", "type": "quantitative"}, "text": {"field": "lab"}}},
{"data": {"values": [{"lab": "1.5", "x": 64.1, "y": 54.9}]}, "mark": {"type": "text", "angle": -60, "font": "DejaVu Serif", "fontSize": 16, "color": "black"}, "encoding": {"x": {"field": "x", "type": "quantitative"}, "y": {"field": "y", "type": "quantitative"}, "text": {"field": "lab"}}},
{"data": {"values": [{"lab": "2", "x": 71.2, "y": 55.8}]}, "mark": {"type": "text", "angle": -66, "font": "DejaVu Serif", "fontSize": 16, "color": "black"}, "encoding": {"x": {"field": "x", "type": "quantitative"}, "y": {"field": "y", "type": "quantitative"}, "text": {"field": "lab"}}},
{"data": {"values": [{"lab": "3", "x": 77.2, "y": 57.1}]}, "mark": {"type": "text", "angle": -74, "font": "DejaVu Serif", "fontSize": 16, "color": "black"}, "encoding": {"x": {"field": "x", "type": "quantitative"}, "y": {"field": "y", "type": "quantitative"}, "text": {"field": "lab"}}},
{
"data": {"values": [{}]},
"mark": {"type": "rect", "fillOpacity": 0, "stroke": "black", "strokeWidth": 1.3},
"encoding": {"x": {"datum": 0}, "x2": {"datum": 86}, "y": {"datum": 0}, "y2": {"datum": 90}}
}
]
}
